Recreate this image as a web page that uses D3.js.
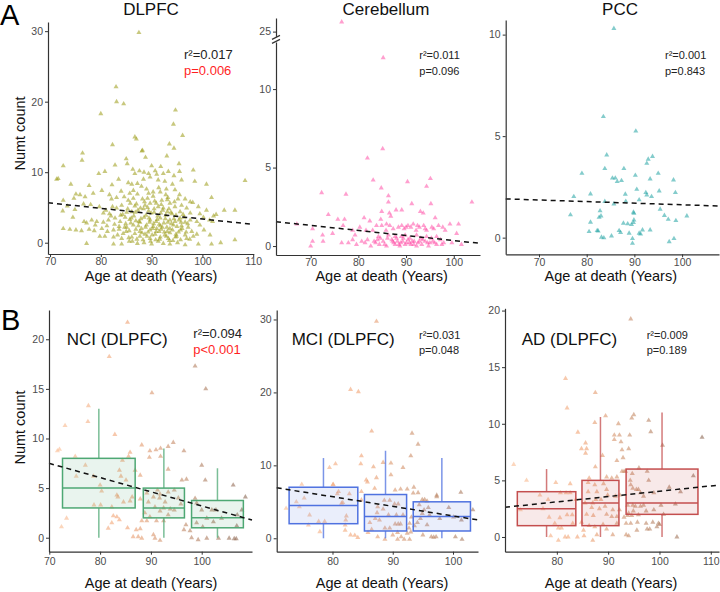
<!DOCTYPE html>
<html>
<head>
<meta charset="utf-8">
<script src="https://cdn.jsdelivr.net/npm/d3@7"></script>
<style>
  body { margin: 0; background: #fff; }
  svg { display: block; font-family: "Liberation Sans", Arial, sans-serif; }
</style>
</head>
<body>
<div id="chart"></div>
<script>
// ---- data: [age at death, numt count] ----
const dlpfcPoints = [
  [87.5,29.8],[83.0,22.1],[83.1,20.0],[84.5,19.7],[80.0,18.3],[94.7,18.8],[94.3,16.8],[96.1,15.2],[86.7,15.0],[87.0,14.7],[88.2,13.1],[94.4,13.4],[102.0,3.0],
  [82.3,13.9],[93.5,14.0],[88.1,13.0],[76.4,12.7],[93.0,12.3],[76.3,11.7],[85.0,11.9],[88.8,12.1],
  [72.6,10.9],[82.8,11.0],[90.0,10.9],[91.8,10.8],[95.4,11.2],[86.3,10.4],[87.6,10.2],[85.2,11.2],[98.2,10.3],[93.3,10.1],[92.3,9.8],[80.8,10.1],[79.6,9.8],[86.7,9.8],[88.5,10.0],[89.4,9.8],[90.7,10.2],[91.0,9.7],[94.4,9.5],[95.5,10.1],
  [71.6,9.1],[71.3,9.0],[74.1,8.3],[77.7,8.1],[82.2,8.2],[83.5,9.0],[85.4,8.5],[86.1,8.3],[87.2,8.4],[88.4,9.0],[89.7,9.3],[91.3,8.9],[92.6,8.7],[94.1,8.3],[95.9,8.9],[98.5,8.7],[100.8,8.3],[108.4,8.8],
  [75.1,6.9],[75.9,6.8],[74.7,6.3],[80.2,7.4],[81.7,6.8],[84.0,7.3],[85.7,7.0],[87.2,6.9],[89.4,7.0],[90.3,7.2],[91.7,7.2],[92.8,6.8],[93.1,6.1],[94.6,7.5],[95.5,6.8],[96.6,6.2],[97.6,5.8],[101.8,6.4],[72.6,6.0],[78.5,7.0],[76.9,6.5],[82.1,6.2],[83.1,6.4],[84.6,6.5],[85.4,6.0],[86.4,6.3],[88.2,6.2],[89.2,6.3],
  [72.5,4.5],[74.9,4.7],[73.4,5.2],[76.6,5.5],[78.0,5.4],[79.7,5.1],[81.0,4.6],[82.3,5.1],[83.1,4.9],[84.1,5.3],[86.7,5.2],[87.8,4.9],[88.7,5.3],[89.7,5.6],[90.9,5.6],[91.3,5.1],[92.3,4.9],[93.6,5.6],[94.6,5.1],[95.9,5.3],[96.9,4.9],[98.1,5.7],[99.2,5.1],[100.8,4.6],[104.3,4.6],[106.4,4.6],[80.5,4.2],[81.7,4.1],[85.1,4.3],[86.1,4.4],[89.4,4.5],[90.5,4.3],[93.1,4.4],[94.0,4.1],[95.6,4.4],[97.6,4.2],[99.5,4.1],[102.7,4.0],
  [74.5,3.6],[76.7,3.0],[78.2,3.2],[79.2,3.0],[80.5,2.9],[81.5,3.2],[82.8,3.5],[83.8,3.0],[84.8,3.6],[85.7,3.3],[86.9,3.1],[87.7,2.9],[88.5,3.6],[89.7,3.2],[90.9,3.0],[91.7,3.5],[92.4,2.8],[93.6,3.2],[94.6,3.0],[95.6,3.5],[96.6,2.9],[97.6,3.2],[98.9,3.0],[100.2,3.6],[101.4,3.2],[102.2,3.8],[77.2,2.8],[78.9,2.5],[86.4,2.5],[87.4,2.4],[89.0,2.5],[90.3,2.3],[91.7,2.4],[93.0,2.2],[94.3,2.5],[95.9,2.4],[97.2,2.2],[99.5,2.5],
  [72.6,2.0],[73.9,1.9],[75.1,1.8],[76.2,1.7],[77.7,1.9],[78.7,1.7],[80.2,2.0],[81.3,1.6],[82.5,1.8],[83.6,1.9],[84.4,1.3],[85.6,1.7],[86.7,1.3],[87.7,1.6],[88.7,1.2],[89.7,1.8],[90.7,1.2],[91.5,1.6],[92.6,1.1],[93.6,1.4],[94.8,1.2],[95.7,1.8],[96.6,1.1],[97.9,1.6],[98.9,1.2],[100.3,1.8],[101.5,1.1],[85.1,2.2],[91.0,2.0],[93.6,2.0],[87.7,0.9],[89.7,0.6],[91.7,0.8],[93.3,0.6],[94.9,0.9],[96.9,0.6],[98.2,0.9],[84.1,0.6],[86.1,0.8],[82.5,0.8],[80.8,0.9],[79.8,0.9],
  [77.2,-0.1],[82.5,-0.2],[84.1,-0.2],[85.6,0.2],[87.2,-0.1],[88.5,0.0],[90.0,-0.2],[91.3,0.2],[92.3,-0.1],[93.6,-0.2],[95.1,0.0],[96.6,-0.3],[99.2,-0.2],[101.8,-0.2],[103.6,0.0],[106.4,0.4],
  [86.5,3.8],[87.3,4.6],[88.0,2.0],[88.9,3.9],[89.3,1.5],[89.9,4.2],[90.4,2.7],[90.8,0.4],[91.2,3.8],[91.9,1.9],[92.2,4.6],[92.7,3.4],[93.1,1.6],[93.9,2.7],[94.2,0.3],[94.8,3.9],[95.3,1.5],[95.8,2.9],[96.2,4.0],[87.9,3.4],[88.3,0.4],[89.6,2.9],[90.1,1.1],[91.5,2.6],[92.9,0.9],[86.9,1.9],[85.9,2.8],[85.3,4.8],[84.7,2.2],[83.9,3.9],[83.3,1.1],[82.7,2.6],[86.2,0.2],[88.6,5.8],[90.6,5.9],[92.0,6.0],[89.0,7.6],[91.4,7.8],[93.4,4.8],[94.5,5.8],
  [84.3,4.0],[85.0,1.6],[85.5,0.7],[86.0,3.5],[86.8,4.3],[87.1,0.5],[87.5,3.0],[88.1,1.4],[88.4,4.8],[88.8,2.2],[89.1,0.9],[89.5,3.5],[89.8,0.2],[90.2,2.0],[90.5,4.8],[90.9,1.6],[91.1,3.3],[91.6,0.5],[91.8,4.2],[92.1,2.2],[92.5,1.5],[92.8,3.9],[93.2,2.9],[93.5,0.3],[93.8,4.3],[94.1,1.8],[94.4,3.4],[94.7,0.8],[95.0,2.3],[95.4,3.2],[95.7,0.4],[96.0,2.0],[96.4,3.6],[96.8,1.5],[97.1,2.7],[97.5,0.5],[85.8,5.6],[87.0,5.5],[89.2,5.0],[90.3,6.6],[91.9,5.4],[93.2,6.4],[86.4,7.4],[88.0,8.0],[92.9,7.6],[95.2,6.2],[83.6,2.3],[84.9,2.7],[82.0,3.8],[81.2,2.4]
];

const cerebellumPoints = [
  [76.5,25.6],[85.2,12.0],[85.1,6.2],[81.9,5.6],[83.1,4.2],[84.8,3.7],[90.3,4.1],[95.1,4.3],[94.3,3.8],[72.3,3.4],[77.4,3.3],[86.3,3.2],[86.3,2.8],[91.2,2.7],[95.2,2.7],[103.8,2.8],
  [87.9,2.3],[89.1,2.3],[84.9,2.2],[86.5,2.1],[93.0,2.2],[93.6,2.1],[73.7,2.0],[75.7,1.7],[77.1,1.7],[81.2,1.8],[82.4,1.6],[84.7,1.7],[86.8,1.9],[96.1,1.8],[99.2,1.4],[101.0,1.4],[67.1,1.4],
  [70.4,1.1],[72.5,0.7],[74.6,0.8],[76.8,1.3],[78.8,1.0],[80.3,1.2],[81.6,1.0],[83.0,1.0],[83.8,1.3],[84.9,1.3],[85.9,1.4],[85.8,1.0],[86.6,1.3],[87.3,1.1],[88.4,1.2],[89.1,1.3],[89.6,1.1],[90.4,1.3],[91.0,1.2],[91.5,1.4],[92.1,1.0],[92.8,1.2],[93.7,1.3],[94.3,1.0],[95.4,1.2],[95.8,1.1],[96.8,1.3],[97.7,1.2],[98.2,1.0],[100.6,0.8],
  [70.4,0.3],[70.0,0.0],[72.6,0.3],[76.5,0.2],[77.9,0.2],[78.8,0.4],[79.6,0.1],[80.7,0.3],[81.4,0.2],[81.9,0.4],[82.6,0.0],[83.3,0.3],[84.0,0.4],[84.4,0.1],[85.2,0.3],[85.9,0.0],[87.0,0.4],[87.7,0.1],[88.2,0.3],[88.7,0.0],[89.3,0.3],[89.8,0.1],[90.4,0.4],[91.0,0.1],[91.7,0.3],[92.2,0.0],[92.8,0.3],[93.3,0.1],[94.0,0.3],[94.7,0.0],[95.6,0.3],[96.4,0.1],[97.2,0.4],[97.9,0.2],[99.6,0.2],[101.6,0.1],
  [87.7,0.6],[89.8,0.7],[92.2,0.7],[94.3,0.6],[96.4,0.6],[79.3,0.7],[84.2,0.6],[86.3,0.7],[88.9,0.2],[90.7,0.2],[93.1,0.5],[95.0,0.2],[87.4,0.2],[89.4,0.5],[91.6,0.1],
  [83.6,0.2],[84.6,0.5],[85.5,0.1],[86.1,0.5],[87.2,0.3],[88.0,0.5],[88.5,0.1],[89.0,0.6],[90.1,0.2],[90.8,0.5],[91.3,0.3],[92.5,0.2],[93.5,0.4],[94.5,0.2],[95.3,0.5],[96.0,0.2],[97.5,0.1],[90.0,1.2],[92.4,1.3],[94.0,1.1]
];

const pccPoints = [
  [85.7,10.3],[83.5,5.96],[90.3,5.25],[84.2,4.07],[93.8,4.0],[92.9,3.86],[92.6,3.66],[83.8,3.4],[87.8,3.4],[79.0,3.17],[90.2,3.07],[95.0,3.17],[85.4,2.93],[86.0,2.93],[86.4,2.76],[87.3,2.81],[93.3,2.89],[98.2,2.84],
  [90.5,2.38],[95.2,2.3],[92.4,2.22],[98.6,2.22],[80.8,2.15],[88.1,2.14],[92.6,2.1],[93.6,2.02],[77.3,2.02],[91.0,1.86],[88.2,1.79],[83.8,1.78],[85.7,1.66],[95.4,1.4],[82.8,1.32],[89.8,1.25],[89.9,1.2],[76.6,1.12],
  [83.0,1.07],[96.3,1.09],[101.0,1.07],[82.6,1.0],[97.1,0.9],[98.7,0.84],[89.9,0.87],[89.8,0.74],[80.8,0.76],[87.7,0.71],[88.6,0.68],[89.4,0.64],[93.3,0.38],[91.7,0.38],[80.5,0.3],[82.2,0.35],[82.4,0.33],[86.8,0.35],
  [87.1,0.25],[88.9,0.22],[91.0,0.22],[91.3,0.18],[83.1,0.02],[83.6,-0.01],[85.2,0.08],[89.6,-0.05],[89.6,-0.28],[97.3,-0.2],[98.3,-0.05]
];

const nciPoints = [
  [85.4,21.7],[81.8,18.25],[98.7,17.3],[100.8,15.0],[90.2,14.6],[73.1,11.3],[77.7,13.3],[77.6,11.7],[82.9,10.4],[72.0,8.9],
  [88.2,9.35],[71.6,8.75],[89.7,8.1],[91.0,8.85],[91.9,9.0],[93.4,9.2],[94.4,9.6],[96.5,8.75],[85.9,8.6],[89.8,8.75],[91.9,8.2],[85.6,8.2],[75.1,8.2],[77.1,7.3],[75.3,6.2],[78.7,6.2],
  [83.8,6.8],[84.4,7.8],[84.1,6.2],[85.1,5.8],[86.9,6.8],[87.9,6.3],[93.4,6.9],[96.1,5.8],[97.0,5.9],[100.0,7.3],[100.7,5.8],[106.2,5.3],[108.6,4.1],[80.0,5.3],[80.3,4.7],[83.3,4.3],[83.5,4.1],
  [84.6,3.6],[85.9,3.7],[86.3,4.1],[87.9,3.9],[78.8,3.3],[80.1,3.3],[82.3,3.1],[89.2,4.5],[91.3,4.8],[91.8,4.4],[93.4,4.6],[94.6,4.8],[90.5,4.1],[91.7,4.0],[92.8,3.6],[95.4,4.0],[89.5,3.6],
  [90.8,3.1],[92.5,3.0],[93.8,2.9],[94.6,2.8],[95.9,3.4],[88.8,2.5],[89.8,2.1],[91.8,2.7],[93.4,2.3],[98.7,3.97],[99.0,3.5],[100.0,2.8],[102.0,2.8],[102.8,2.8],[103.9,1.96],[101.0,1.96],[102.3,1.6],
  [107.0,2.3],[107.9,2.8],[99.0,1.5],[82.6,2.2],[83.3,2.1],[83.8,1.8],[73.4,1.96],[72.4,1.1],[82.3,1.5],[88.2,1.7],[89.2,1.7],[91.1,1.7],[92.5,1.7],[96.9,1.3],[81.6,0.95],[85.4,1.0],[87.1,0.8],
  [87.9,0.9],[96.5,0.8],[97.7,0.7],[100.2,1.1],[106.9,1.2],[86.5,0.1],[87.5,0.1],[88.2,-0.05],[90.5,0.3],[90.8,-0.05],[91.8,-0.26],[98.0,0.0],[99.3,-0.2],[103.3,-0.05],[105.4,-0.05],[106.4,-0.1],[106.8,-0.1],[101.0,-0.05]
];

const mciPoints = [
  [87.3,29.75],[83.0,20.4],[84.3,20.1],[86.5,14.7],[93.2,14.4],[94.2,12.9],[93.0,11.3],[84.8,11.3],[84.7,10.2],[80.5,10.2],[79.5,9.7],[88.4,10.4],[89.7,10.3],[91.7,9.7],[86.8,9.8],[89.7,8.7],
  [87.3,8.3],[85.6,8.0],[85.8,7.7],[87.0,6.85],[90.4,6.6],[91.3,6.75],[92.4,6.75],[93.5,7.0],[93.4,6.2],[94.2,6.25],[97.3,5.9],[97.3,5.7],[101.3,6.3],[74.9,7.4],[80.1,7.35],[80.8,6.1],[82.8,6.1],
  [81.7,4.9],[74.0,5.0],[74.5,4.3],[72.3,4.1],[82.3,3.06],[84.8,6.4],[84.8,5.25],[88.6,5.2],[89.5,5.2],[87.5,4.3],[88.4,4.0],[87.4,3.5],[87.1,2.7],[87.8,2.5],[89.3,3.2],[90.6,3.2],[91.7,3.2],
  [90.9,1.96],[90.4,1.96],[91.3,1.96],[88.7,1.4],[89.5,1.4],[86.2,2.15],[90.3,4.7],[90.9,4.7],[93.1,2.9],[92.8,2.05],[92.7,1.4],[93.0,0.87],[93.6,1.7],[94.1,2.15],[94.6,2.7],[94.9,3.4],[95.3,5.3],
  [94.9,5.3],[95.7,5.1],[94.4,4.6],[95.9,4.2],[95.2,3.9],[95.7,1.85],[95.0,0.45],[96.4,0.2],[96.8,0.14],[97.2,0.2],[96.1,3.2],[97.8,2.7],[100.1,2.9],[99.3,4.2],[103.3,3.9],[101.4,2.5],[100.4,0.2],
  [101.5,-0.15],[76.0,1.8],[77.7,2.3],[78.7,2.3],[77.9,0.9],[82.1,1.8],[82.1,1.1],[83.0,0.45],[84.2,0.1],[85.9,0.8],[87.5,0.2],[88.7,-0.15],[90.0,0.45],[90.8,0.8],[91.4,0.2],[91.9,-0.15],[92.4,0.7],
  [92.8,-0.15],[90.8,-0.15],[86.5,1.2],[75.3,5.5],[76.2,3.2],[80.1,7.4],[81.0,6.4],[81.5,4.8],[82.2,2.5],[83.7,0.4]
];

const adPoints = [
  [94.4,19.26],[81.7,14.0],[82.0,11.4],[87.5,12.75],[95.0,10.8],[94.6,10.5],[97.9,10.3],[98.3,9.3],[87.4,10.1],[89.5,10.7],[92.0,10.0],[84.1,9.25],[91.2,9.0],[92.2,9.0],[91.2,8.6],[94.2,9.0],
  [92.5,8.4],[85.6,8.3],[84.8,7.8],[85.8,7.8],[85.6,7.4],[92.7,7.7],[94.0,7.8],[92.9,7.0],[100.6,8.1],[108.3,8.8],[88.9,7.2],[91.7,6.75],[71.6,6.4],[87.5,6.2],[92.7,5.8],[93.1,5.8],[93.4,5.8],
  [96.0,6.1],[97.6,5.8],[94.7,5.6],[86.3,5.2],[89.7,5.3],[90.7,5.2],[91.7,5.3],[74.1,5.0],[79.8,4.8],[82.6,4.7],[86.1,4.8],[87.4,4.6],[89.1,4.7],[94.4,4.6],[94.8,4.3],[95.5,4.2],[95.9,4.2],
  [106.6,5.4],[97.9,5.0],[94.3,5.0],[101.9,4.4],[104.1,4.0],[96.3,3.9],[96.9,3.6],[98.9,3.9],[80.7,3.9],[81.8,3.9],[76.7,3.7],[82.6,3.9],[83.7,3.3],[86.1,4.0],[87.8,4.0],[89.7,4.2],[91.4,3.6],
  [92.3,3.7],[89.9,3.7],[87.6,3.3],[88.6,3.3],[78.3,3.3],[85.5,3.0],[87.0,3.0],[86.8,2.6],[88.3,2.5],[89.4,2.7],[90.9,2.4],[92.2,2.4],[93.8,2.8],[94.8,2.8],[95.3,2.7],[96.3,2.7],[96.9,2.8],
  [100.3,2.8],[103.1,2.9],[97.4,2.3],[94.9,2.3],[94.0,2.1],[72.9,2.4],[77.3,2.5],[78.5,1.75],[80.6,1.7],[82.0,1.95],[83.0,1.95],[85.8,2.0],[87.1,1.9],[89.7,2.0],[90.7,1.8],[91.7,1.8],[93.1,1.75],
  [93.8,1.9],[94.6,1.9],[95.9,1.95],[98.9,2.4],[100.8,2.0],[79.6,1.2],[83.1,1.2],[84.8,1.3],[86.3,1.0],[87.4,0.9],[89.0,1.1],[91.7,1.2],[93.5,1.2],[94.4,1.2],[95.7,1.3],[97.4,1.2],[98.7,1.3],
  [99.8,1.2],[99.5,0.9],[100.0,1.1],[97.6,0.7],[98.1,0.7],[95.6,0.6],[85.2,0.6],[80.3,0.8],[80.9,0.8],[89.7,0.7],[93.5,0.2],[94.0,0.1],[87.8,0.2],[85.3,0.1],[84.0,0.0],[82.2,0.0],[81.6,0.0],
  [78.8,0.1],[80.3,-0.3],[87.0,-0.3],[90.9,0.2],[103.4,0.0]
];

// regression fits: [intercept, slope]
const dlpfcFit = [10.95, -0.0759];
const cerebellumFit = [3.57, -0.0322];
const pccFit = [2.40, -0.0078];
const nciFit = [17.5, -0.143];
const mciFit = [16.26, -0.132];
const adFit = [-0.66, 0.047];

// stats labels: [r², p, p significant]
const dlpfcStats = ["r²=0.017", "p=0.006", true];
const cerebellumStats = ["r²=0.011", "p=0.096", false];
const pccStats = ["r²=0.001", "p=0.843", false];
const nciStats = ["r²=0.094", "p<0.001", true];
const mciStats = ["r²=0.031", "p=0.048", false];
const adStats = ["r²=0.009", "p=0.189", false];

// boxplots: [age from, age to, whisker low, q1, median, q3, whisker high]
const nciBoxes = [[72.6, 86.9, 0, 3, 5, 8, 13], [88.5, 96.6, 0, 2, 3, 5, 9], [98.0, 108.2, 0, 1, 2, 3.75, 7]];
const mciBoxes = [[72.8, 84.2, 0, 2, 4.5, 7, 11], [85.3, 92.3, 0, 1, 3, 6, 12], [93.4, 102.9, 0, 1, 3, 5, 11]];
const adBoxes = [[72.3, 83.7, 0, 1, 2.5, 4, 6], [84.9, 92.1, 0, 1, 3, 5, 10.6], [93.5, 107.5, 0, 2, 3, 6, 11]];

const W = 720, H = 592;
const svg = d3.select("#chart").append("svg").attr("width", W).attr("height", H);

const ageColor = d3.scaleLinear()
  .domain([70, 85, 95, 105])
  .range(["#fbbf96", "#f0a070", "#c48a66", "#9a7058"]);

const tri = d3.symbol(d3.symbolTriangle, 11);

function styleAxis(g) {
  g.select(".domain").attr("stroke", "#333").attr("stroke-width", 1.2);
  g.selectAll(".tick line").attr("stroke", "#333");
  g.selectAll(".tick text").attr("fill", "#4d4d4d").attr("font-size", 10.5)
    .attr("font-family", "Liberation Sans, Arial, sans-serif");
}

function panel(o) {
  const g = svg.append("g");
  const x = d3.scaleLinear().domain(o.xDomain).range(o.xRange);
  const y = d3.scaleLinear().domain(o.yDomain).range(o.yRange);
  const yUp = o.upper ? d3.scaleLinear().domain(o.upper.domain).range(o.upper.range) : null;
  const ypos = v => (yUp && v > 20) ? yUp(v) : y(v);

  // points
  g.append("g").selectAll("path")
    .data(o.points)
    .join("path")
    .attr("d", tri)
    .attr("transform", d => `translate(${x(d[0])},${ypos(d[1])})`)
    .attr("fill", d => o.color || ageColor(d[0]))
    .attr("fill-opacity", o.opacity);

  // boxplots
  if (o.boxes) {
    const bg = g.append("g").attr("stroke", o.boxColor).attr("stroke-width", 1.5);
    o.boxes.forEach(b => {
      const xm = x((b[0] + b[1]) / 2);
      bg.append("line").attr("x1", xm).attr("x2", xm).attr("y1", y(b[2])).attr("y2", y(b[3]))
        .attr("stroke-opacity", 0.75);
      bg.append("line").attr("x1", xm).attr("x2", xm).attr("y1", y(b[5])).attr("y2", y(b[6]))
        .attr("stroke-opacity", 0.75);
      bg.append("rect")
        .attr("x", x(b[0])).attr("width", x(b[1]) - x(b[0]))
        .attr("y", y(b[5])).attr("height", y(b[3]) - y(b[5]))
        .attr("fill", o.boxColor).attr("fill-opacity", 0.12);
      bg.append("line").attr("x1", x(b[0])).attr("x2", x(b[1])).attr("y1", y(b[4])).attr("y2", y(b[4]));
    });
  }

  // fit line over the full x range
  const fx = x.domain();
  g.append("line")
    .attr("x1", x(fx[0])).attr("x2", x(fx[1]))
    .attr("y1", y(o.fit[0] + o.fit[1] * fx[0]))
    .attr("y2", y(o.fit[0] + o.fit[1] * fx[1]))
    .attr("stroke", "#111").attr("stroke-width", 1.5).attr("stroke-dasharray", "5,4");

  // axes
  const yb = o.yRange[0];
  g.append("g").attr("transform", `translate(0,${yb})`)
    .call(d3.axisBottom(x).tickValues(o.xTicks).tickSize(3).tickSizeOuter(0).tickPadding(o.xPad))
    .call(styleAxis);
  g.append("g").attr("transform", `translate(${o.xRange[0]},0)`)
    .call(d3.axisLeft(y).tickValues(o.yTicks).tickSize(3).tickSizeOuter(0).tickPadding(2))
    .call(styleAxis);
  if (yUp) {
    g.append("g").attr("transform", `translate(${o.xRange[0]},0)`)
      .call(d3.axisLeft(yUp).tickValues(o.upper.ticks).tickFormat(d3.format("d"))
        .tickSize(3).tickSizeOuter(0).tickPadding(2))
      .call(styleAxis);
    const bx = o.xRange[0], by = o.upper.range[0];
    [0, 4].forEach(dy => {
      g.append("line").attr("x1", bx - 4).attr("x2", bx + 4)
        .attr("y1", by + dy + 3).attr("y2", by + dy - 1)
        .attr("stroke", "#333").attr("stroke-width", 1.2);
    });
  }

  // texts
  if (o.title) {
    g.append("text").attr("x", o.title[1]).attr("y", 15).attr("text-anchor", "middle")
      .attr("font-size", 17).attr("fill", "#111").text(o.title[0]);
  }
  if (o.group) {
    g.append("text").attr("x", o.group[1]).attr("y", 345)
      .attr("font-size", 17).attr("fill", "#111").text(o.group[0]);
  }
  const st = g.append("g").attr("font-size", o.statSize);
  st.append("text").attr("x", o.statX).attr("y", o.statY[0]).attr("fill", "#222").text(o.stats[0]);
  st.append("text").attr("x", o.statX).attr("y", o.statY[1])
    .attr("fill", o.stats[2] ? "#ff1f1f" : "#222").text(o.stats[1]);

  g.append("text").attr("x", o.xTitle[0]).attr("y", o.xTitle[1]).attr("text-anchor", "middle")
    .attr("font-size", 14.5).attr("fill", "#111").text("Age at death (Years)");
}

panel({
  points: dlpfcPoints, color: "#9b9b14", opacity: 0.55,
  xDomain: [69.6, 110.1], xRange: [48, 253.7], xTicks: [70, 80, 90, 100, 110], xPad: 1,
  yDomain: [-1.6, 31.3], yRange: [254, 22], yTicks: [0, 10, 20, 30],
  fit: dlpfcFit, stats: dlpfcStats, statX: 184, statY: [59, 75], statSize: 13,
  title: ["DLPFC", 151], xTitle: [151, 281]
});
panel({
  points: cerebellumPoints, color: "#ff3fa0", opacity: 0.5,
  xDomain: [62.73, 105.5], xRange: [276, 480], xTicks: [70, 80, 90, 100], xPad: 1,
  yDomain: [-0.57, 13.0], yRange: [255, 42], yTicks: [0, 5, 10],
  upper: { domain: [24.7, 25.85], range: [36.4, 18], ticks: [25] },
  fit: cerebellumFit, stats: cerebellumStats, statX: 419.3, statY: [58.5, 75], statSize: 11,
  title: ["Cerebellum", 386], xTitle: [381.7, 281]
});
panel({
  points: pccPoints, color: "#1fa3a3", opacity: 0.55,
  xDomain: [63.02, 107.74], xRange: [505.7, 719], xTicks: [70, 80, 90, 100], xPad: 1,
  yDomain: [-0.82, 10.72], yRange: [254.3, 20], yTicks: [0, 5, 10],
  fit: pccFit, stats: pccStats, statX: 665, statY: [58.5, 75], statSize: 11,
  title: ["PCC", 620], xTitle: [610.8, 281]
});
panel({
  points: nciPoints, opacity: 0.6, boxes: nciBoxes, boxColor: "#4ea874",
  xDomain: [69.94, 109.9], xRange: [49, 252], xTicks: [70, 80, 90, 100], xPad: 3,
  yDomain: [-1.41, 22.95], yRange: [551.7, 310], yTicks: [0, 5, 10, 15, 20],
  fit: nciFit, stats: nciStats, statX: 193.3, statY: [338, 354], statSize: 13,
  group: ["NCI (DLPFC)", 66.7], xTitle: [151, 588]
});
panel({
  points: mciPoints, opacity: 0.6, boxes: mciBoxes, boxColor: "#4f72e0",
  xDomain: [70.74, 104.15], xRange: [276.7, 478], xTicks: [80, 90, 100], xPad: 3,
  yDomain: [-1.84, 31.3], yRange: [551.7, 310], yTicks: [0, 10, 20, 30],
  fit: mciFit, stats: mciStats, statX: 419, statY: [338.5, 353.5], statSize: 11,
  group: ["MCI (DLPFC)", 291.7], xTitle: [382, 588]
});
panel({
  points: adPoints, opacity: 0.6, boxes: adBoxes, boxColor: "#c44e4e",
  xDomain: [69.9, 111.6], xRange: [505, 719], xTicks: [80, 90, 100, 110], xPad: 3,
  yDomain: [-1.3, 20.2], yRange: [551.7, 308.3], yTicks: [0, 5, 10, 15, 20],
  fit: adFit, stats: adStats, statX: 646.7, statY: [338.5, 353.5], statSize: 11,
  group: ["AD (DLPFC)", 521.7], xTitle: [611, 588]
});

// y axis titles and panel letters
[133.5, 427.5].forEach(cy => {
  svg.append("text").attr("transform", `translate(25,${cy}) rotate(-90)`)
    .attr("text-anchor", "middle").attr("font-size", 14.5).attr("fill", "#111").text("Numt count");
});
svg.append("text").attr("x", 0).attr("y", 25).attr("font-size", 29).attr("fill", "#000").text("A");
svg.append("text").attr("x", 1).attr("y", 330).attr("font-size", 29).attr("fill", "#000").text("B");
</script>
</body>
</html>
